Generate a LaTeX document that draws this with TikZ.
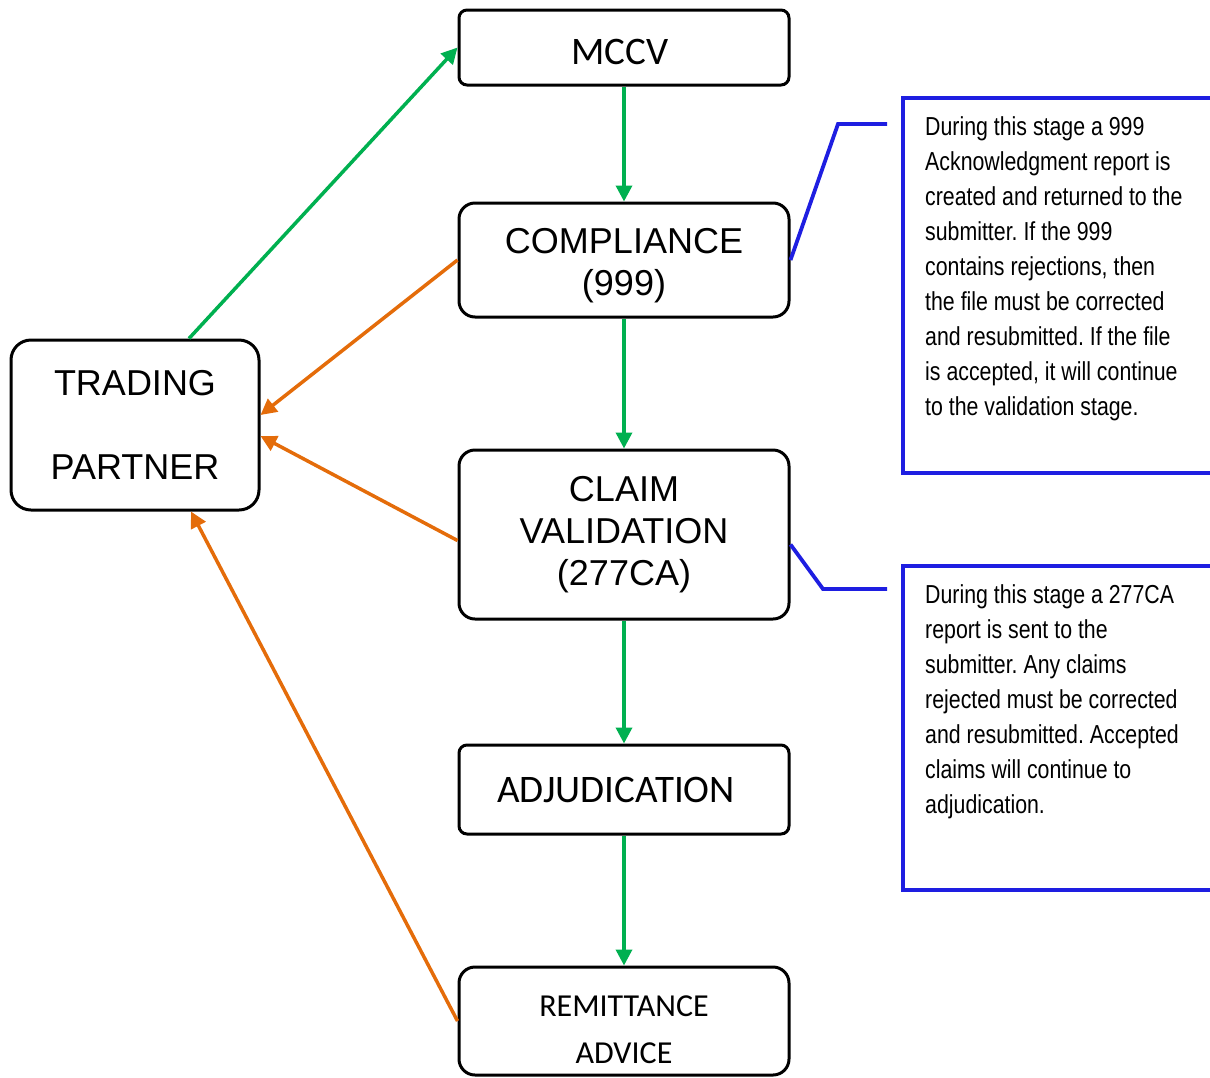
\documentclass[tikz,border=0pt]{standalone}
\usepackage{fontspec}
\setmainfont{Liberation Sans}
\newfontfamily\carlito{Carlito}
\newfontfamily\narrowsans[FakeStretch=0.82]{Liberation Sans}
\usetikzlibrary{arrows.meta}

\definecolor{flowgreen}{RGB}{0,176,80}
\definecolor{backorange}{RGB}{228,108,10}
\definecolor{noteblue}{RGB}{30,30,225}

\tikzset{
  stage/.style={draw=black, line width=3pt, rounded corners=16pt, minimum width=330pt,
    align=center, inner sep=0pt, font=\fontsize{36}{42}\selectfont},
  flatstage/.style={stage, rounded corners=8pt, font=\carlito\fontsize{39}{47}\selectfont},
  go/.style={draw=flowgreen, line width=3.5pt, -{Triangle[length=16pt,width=16pt]}},
  back/.style={draw=backorange, line width=3.5pt, -{Triangle[length=16pt,width=16pt]}},
  callout/.style={draw=noteblue, line width=3.8pt},
  notetext/.style={anchor=north west, inner sep=0pt, align=left,
    font=\narrowsans\fontsize{26}{35}\selectfont\frenchspacing},
}

\begin{document}
\begin{tikzpicture}[x=1pt,y=1pt,yscale=-1]
\useasboundingbox (0,0) rectangle (1210,1077);

% stages
\node [flatstage, minimum height=75pt] (mccv) at (624,47.5) {\mbox{}\\[-13pt]MCCV\hspace*{8pt}};
\node [stage, minimum height=114pt] (comp) at (624,260) {\mbox{}\\[-6pt]COMPLIANCE\\(999)};
\node [stage, minimum height=169pt] (cv) at (624,534.5) {CLAIM\\VALIDATION\\(277CA)};
\node [flatstage, minimum height=89pt] (adj) at (624,789.5) {ADJUDICATION\hspace*{16pt}};
\node [flatstage, rounded corners=16pt, minimum height=108pt,
  font=\carlito\fontsize{32}{47}\selectfont] (ra) at (624,1021) {\mbox{}\\[-8pt]REMITTANCE\\ADVICE};
\node [stage, rounded corners=20pt, minimum width=248pt, minimum height=170pt] (tp) at (135,425)
  {TRADING\\[42pt]PARTNER};

% main flow
\draw [go] ([xshift=54pt]tp.north) -- (mccv.west);
\draw [go] (mccv.south) -- (comp.north);
\draw [go] (comp.south) -- (cv.north);
\draw [go] (cv.south) -- (adj.north);
\draw [go] (adj.south) -- (ra.north);

% replies
\draw [back] (comp.west) -- ([yshift=-10pt]tp.east);
\draw [back] ([yshift=6pt]cv.west) -- ([yshift=11pt]tp.east);
\draw [back] (ra.west) -- ([xshift=56pt]tp.south);

% notes
\coordinate (tipa) at (887,124);
\coordinate (tipb) at (887,589);
\draw [callout] (1212,98) -- (903,98) -- (903,473) -- (1212,473);
\draw [callout] (1212,566) -- (903,566) -- (903,890) -- (1212,890);
\draw [callout] (comp.east) -- (838,124) -- (tipa);
\draw [callout] ([yshift=10pt]cv.east) -- (823,589) -- (tipb);

\node [notetext] (notea) at (925,116) {During this stage a 999\\Acknowledgment report is\\created and returned to the\\submitter. If the 999\\contains rejections, then\\the file must be corrected\\and resubmitted. If the file\\is accepted, it will continue\\to the validation stage.};
\node [notetext] (noteb) at (925,584) {During this stage a 277CA\\report is sent to the\\submitter. Any claims\\rejected must be corrected\\and resubmitted. Accepted\\claims will continue to\\adjudication.};

\end{tikzpicture}
\end{document}
